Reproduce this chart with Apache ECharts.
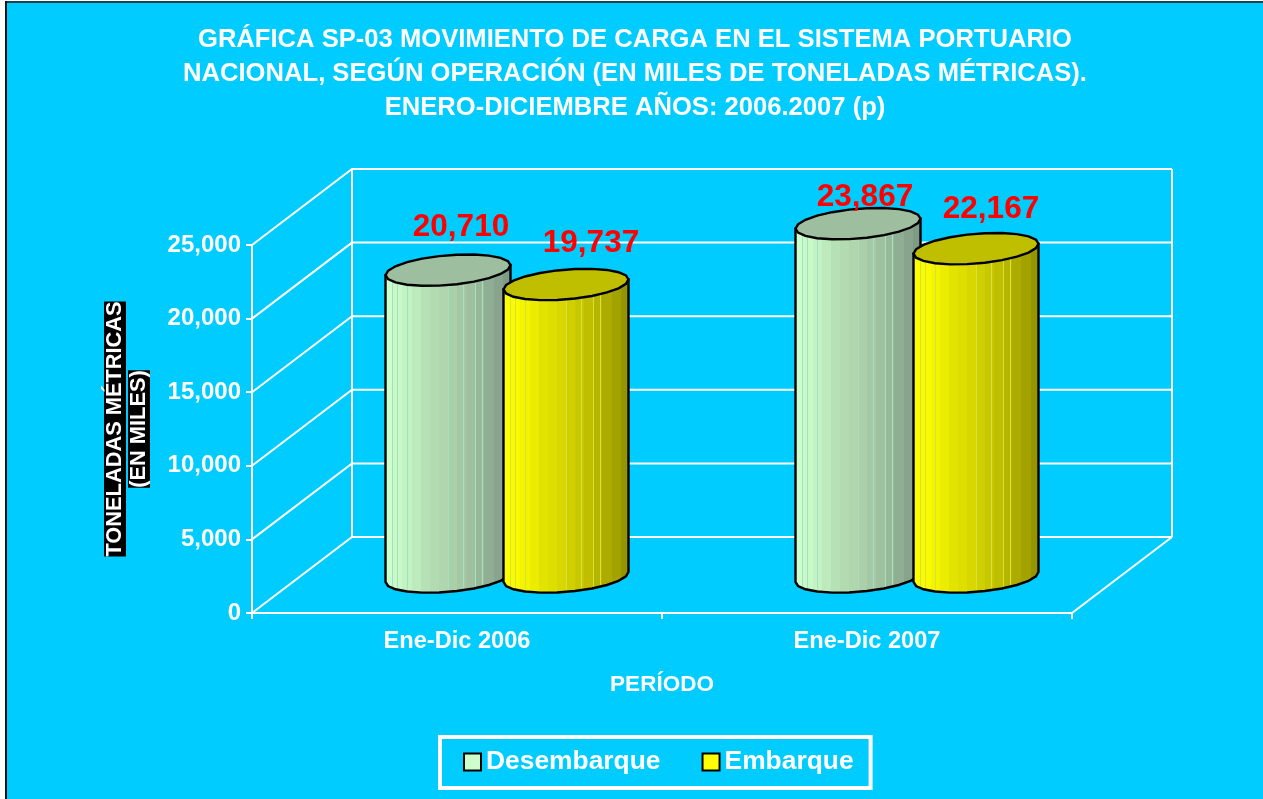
<!DOCTYPE html>
<html>
<head>
<meta charset="utf-8">
<style>html,body{margin:0;padding:0;background:#00CCFF}#c{width:1263px;height:799px}</style>
<script src="https://cdn.jsdelivr.net/npm/echarts@6/dist/echarts.min.js"></script>
</head>
<body>
<div id="c"></div>
<script>
const categories = ['Ene-Dic 2006', 'Ene-Dic 2007'];
const desembarque = [20710, 23867];
const embarque = [19737, 22167];
const yTicks = [0, 5000, 10000, 15000, 20000, 25000];
const titleText = 'GRÁFICA SP-03 MOVIMIENTO DE CARGA EN EL SISTEMA PORTUARIO\nNACIONAL, SEGÚN OPERACIÓN (EN MILES DE TONELADAS MÉTRICAS).\nENERO-DICIEMBRE AÑOS: 2006.2007 (p)';

// style / projection constants
const DEPTH = [100, -76];
const FONT = '"Liberation Sans", Arial, sans-serif';
const SIDE = 59 / 410, RAD = 62.5 / 410;
const desBands = ['#CCFFCC','#C8FAC8','#C3F3C3','#BDEBBD','#B6E1B6','#B2DBB2','#AFD6AF','#AAD0AA','#A5C9A5','#9FC1A0','#98B89A','#90AE93','#88A48C','#7F9A85'];
const embBands = ['#FFFF00','#FAFA00','#F4F400','#ECEC00','#E3E300','#DEDE00','#D8D800','#D0D000','#C8C800','#BFBF00','#B6B600','#ACAC00','#A2A200','#959500'];
const stripes = [.06, .10, .18, .5, .62, .71, .77];
const desLabelNudge = [[13, -43], [7, -26]];
const embLabelNudge = [[25, -41], [15, -39]];

function bandGradient(bands, stripeColor) {
  const n = bands.length, w = 0.008, cuts = new Set([0, 1]);
  bands.forEach((_, i) => cuts.add(i / n));
  stripes.forEach(p => { cuts.add(p); cuts.add(p + w); });
  const sorted = [...cuts].sort((a, b) => a - b), colorStops = [];
  for (let i = 0; i < sorted.length - 1; i++) {
    const a = sorted[i], b = sorted[i + 1];
    const isStripe = stripes.some(p => a >= p - 1e-9 && a < p + w - 1e-9);
    const c = isStripe ? stripeColor : bands[Math.min(n - 1, Math.floor(a * n + 1e-9))];
    colorStops.push({ offset: a, color: c }, { offset: b, color: c });
  }
  return { type: 'linear', x: 0, y: 0, x2: 1, y2: 0, colorStops };
}
function ring(cx, cy, R, from, to, steps) {
  const pts = [];
  for (let i = 0; i <= steps; i++) {
    const t = from + (to - from) * i / steps;
    pts.push([cx + R * Math.cos(t), cy - 5 * Math.cos(t) + 14.9 * Math.sin(t)]);
  }
  return pts;
}
function cylinder(sign, gradient, topColor, values, nudges) {
  return function (params, api) {
    const cat = api.value(0), val = api.value(1);
    const band = api.size([1, 0])[0];
    const base = api.coord([cat, 0]), top = api.coord([cat, val]);
    const cx = base[0] + DEPTH[0] / 2 + sign * SIDE * band, R = RAD * band;
    const by = base[1] + DEPTH[1] / 2 + 2, ty = top[1] + DEPTH[1] / 2;
    const body = [[cx - R, ty + 5]].concat(ring(cx, by, R, Math.PI, 0, 11), [[cx + R, ty - 5]]);
    const nudge = nudges[params.dataIndex];
    return {
      type: 'group',
      children: [
        { type: 'polygon', shape: { points: body }, style: { fill: gradient, stroke: '#000', lineWidth: 2.4 } },
        { type: 'polygon', shape: { points: ring(cx, ty, R, 0, Math.PI * 2, 22) }, style: { fill: topColor, stroke: '#000', lineWidth: 2.4 } },
        { type: 'text', z2: 50, style: { text: values[params.dataIndex].toLocaleString('en-US'), x: cx + nudge[0], y: ty + nudge[1],
            fill: '#FF0000', font: 'bold 31.5px ' + FONT, textAlign: 'center', textVerticalAlign: 'middle' } }
      ]
    };
  };
}
function wall(params, api) {
  const v = api.value(0), p = api.coord([0, v]);
  const left = api.coord([0, 0])[0] - api.size([1, 0])[0] / 2;
  const right = left + 2 * api.size([1, 0])[0];
  const line = { stroke: '#fff', lineWidth: 2, fill: null };
  const backY = p[1] + DEPTH[1];
  const kids = [{ type: 'polyline', shape: { points: [[left, p[1]], [left + DEPTH[0], backY], [right + DEPTH[0], backY]] }, style: line }];
  if (v === 0) {
    const topY = api.coord([0, yTicks[yTicks.length - 1]])[1] + DEPTH[1];
    kids.push({ type: 'line', shape: { x1: right, y1: p[1], x2: right + DEPTH[0], y2: backY }, style: line });
    kids.push({ type: 'line', shape: { x1: left + DEPTH[0], y1: backY, x2: left + DEPTH[0], y2: topY }, style: line });
    kids.push({ type: 'line', shape: { x1: right + DEPTH[0], y1: backY, x2: right + DEPTH[0], y2: topY }, style: line });
  }
  return { type: 'group', children: kids };
}
const chart = echarts.init(document.getElementById('c'), null, { renderer: 'canvas' });
chart.setOption({
  animation: false,
  backgroundColor: '#00CCFF',
  graphic: [
    { type: 'rect', left: 0, top: 0, shape: { width: 1263, height: 1 }, style: { fill: '#fff' }, silent: true },
    { type: 'rect', left: 5, top: 1, shape: { width: 1258, height: 2 }, style: { fill: '#1F3F4F' }, silent: true },
    { type: 'rect', left: 0, top: 0, shape: { width: 5, height: 799 }, style: { fill: '#fff' }, silent: true },
    { type: 'rect', left: 5, top: 1, shape: { width: 2, height: 798 }, style: { fill: '#111' }, silent: true }
  ],
  title: { text: titleText, left: 630, top: 18, textAlign: 'center',
    textStyle: { color: '#fff', fontFamily: FONT, fontWeight: 'bold', fontSize: 25.6, lineHeight: 34 } },
  grid: { left: 252, right: 191, top: 245, bottom: 186 },
  legend: {
    left: 440, top: 737, padding: [12, 17, 13, 23], itemGap: 41, itemWidth: 17, itemHeight: 17,
    borderColor: '#fff', borderWidth: 4, selectedMode: false,
    textStyle: { color: '#fff', fontFamily: FONT, fontWeight: 'bold', fontSize: 26.4 },
    data: [
      { name: 'Desembarque', icon: 'rect', itemStyle: { color: '#CCFFCC', borderColor: '#000', borderWidth: 2 } },
      { name: 'Embarque', icon: 'rect', itemStyle: { color: '#FFFF00', borderColor: '#000', borderWidth: 2 } }
    ]
  },
  xAxis: {
    type: 'category', data: categories, name: 'PERÍODO', nameLocation: 'middle', nameGap: 60,
    nameTextStyle: { color: '#fff', fontFamily: FONT, fontWeight: 'bold', fontSize: 22.5 },
    axisLine: { lineStyle: { color: '#fff', width: 2 } },
    axisTick: { show: true, length: 6, lineStyle: { color: '#fff', width: 2 } },
    axisLabel: { color: '#fff', fontFamily: FONT, fontWeight: 'bold', fontSize: 23.6, margin: 16 },
    splitLine: { show: false }
  },
  yAxis: {
    type: 'value', min: 0, max: 25000, interval: 5000,
    name: '{a|TONELADAS MÉTRICAS}\n{a|(EN MILES)}', nameLocation: 'middle', nameGap: 101, nameRotate: 90,
    nameTextStyle: { rich: { a: { color: '#fff', fontFamily: FONT, fontWeight: 'bold', fontSize: 21.8, backgroundColor: '#000', lineHeight: 24, height: 22 } } },
    axisLine: { show: true, lineStyle: { color: '#fff', width: 2 } },
    axisTick: { show: true, length: 6, lineStyle: { color: '#fff', width: 2 } },
    axisLabel: { color: '#fff', fontFamily: FONT, fontWeight: 'bold', fontSize: 24, margin: 11 },
    splitLine: { show: false }
  },
  series: [
    { type: 'custom', name: 'wall', silent: true, z: 1, renderItem: wall, encode: { y: 0 }, data: yTicks.map(v => [v]) },
    { type: 'custom', name: 'Desembarque', z: 3, renderItem: cylinder(-1, bandGradient(desBands, '#A5DFC4'), '#9DBF9F', desembarque, desLabelNudge),
      encode: { x: 0, y: 1 }, data: desembarque.map((v, i) => [i, v]) },
    { type: 'custom', name: 'Embarque', z: 4, renderItem: cylinder(1, bandGradient(embBands, '#D6E23A'), '#BFBF00', embarque, embLabelNudge),
      encode: { x: 0, y: 1 }, data: embarque.map((v, i) => [i, v]) }
  ]
});
</script>
</body>
</html>
